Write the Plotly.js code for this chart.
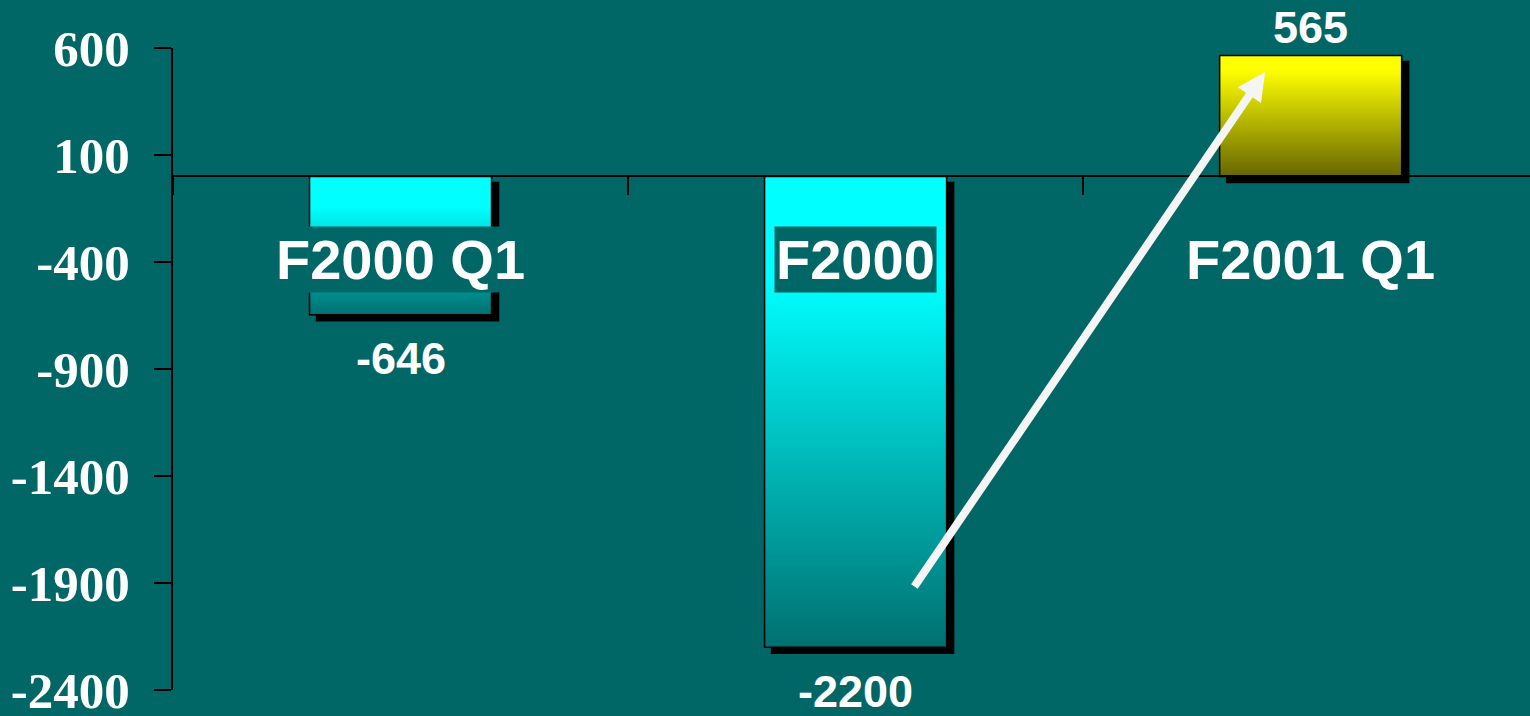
<!DOCTYPE html>
<html>
<head>
<meta charset="utf-8">
<script src="https://cdn.plot.ly/plotly-3.0.1.min.js"></script>
<style>
  html, body { margin: 0; padding: 0; background: #006666; }
  #chart { width: 1530px; height: 716px; }
</style>
</head>
<body>
<div id="chart"></div>
<script>
// ---- data ----
const categories = ['F2000 Q1', 'F2000', 'F2001 Q1'];
const values = [-646, -2200, 565];
const valueLabels = ['-646', '-2200', '565'];
const yTickValues = [-2400, -1900, -1400, -900, -400, 100, 600];
const yTickLabels = ['-2400', '-1900', '-1400', '-900', '-400', '100', '600'];
// arrow: from inside the F2000 bar up to the F2001 Q1 bar
const arrowFrom = { x: 1.127, y: -1923 };
const arrowTo = { x: 1.90, y: 488 };
const categoryLabelY = -400;

// ---- style ----
const BG = '#006666';
const WHITE = '#FFFFFF';

const barTrace = {
  type: 'bar',
  x: categories,
  y: values,
  width: 0.4,
  marker: {
    color: values.map(v => v >= 0 ? '#FFFF00' : '#00FFFF'),
    line: { color: '#000000', width: 1.5 }
  },
  hoverinfo: 'x+y',
  showlegend: false
};

const annotations = [];
// category labels inside the plot with a background box
categories.forEach((c, i) => {
  annotations.push({
    x: i, y: categoryLabelY, xref: 'x', yref: 'y',
    text: c, showarrow: false,
    font: { family: 'Liberation Sans, Arial, sans-serif', size: 56, color: WHITE, weight: 'bold' },
    bgcolor: BG, borderpad: 1,
    xanchor: 'center', yanchor: 'middle', yshift: 3
  });
});
// value labels
values.forEach((v, i) => {
  annotations.push({
    x: i, y: v, xref: 'x', yref: 'y',
    text: valueLabels[i], showarrow: false,
    font: { family: 'Liberation Sans, Arial, sans-serif', size: 45, color: WHITE, weight: 'bold' },
    xanchor: 'center', yanchor: 'middle',
    yshift: v >= 0 ? 28 : -44
  });
});
// arrow
annotations.push({
  x: arrowTo.x, y: arrowTo.y, xref: 'x', yref: 'y',
  ax: arrowFrom.x, ay: arrowFrom.y, axref: 'x', ayref: 'y',
  text: '', showarrow: true,
  arrowcolor: '#F5F5F5', arrowwidth: 8, arrowhead: 2, arrowsize: 0.7,
  standoff: 0, startstandoff: 0
});

const layout = {
  width: 1530, height: 716,
  paper_bgcolor: BG, plot_bgcolor: BG,
  margin: { l: 173, r: 0, t: 48, b: 26 },
  showlegend: false,
  xaxis: {
    type: 'category',
    range: [-0.5, 2.482],
    anchor: 'free', position: 0.8,
    showline: true, linecolor: '#000000', linewidth: 2,
    ticks: 'outside', tickson: 'boundaries', ticklen: 18, tickwidth: 2, tickcolor: '#000000',
    showticklabels: false, showgrid: false, zeroline: false, fixedrange: true
  },
  yaxis: {
    range: [-2400, 600],
    tickmode: 'array', tickvals: yTickValues, ticktext: yTickLabels,
    showline: true, linecolor: '#000000', linewidth: 2,
    ticks: 'outside', ticklen: 17, tickwidth: 2, tickcolor: '#000000',
    ticklabelstandoff: 14, ticklabeloverflow: 'allow',
    tickfont: { family: 'Liberation Serif, Times New Roman, serif', size: 51, color: WHITE, weight: 'bold' },
    showgrid: false, zeroline: false, fixedrange: true
  },
  annotations: annotations
};

Plotly.newPlot('chart', [barTrace], layout, { displayModeBar: false, staticPlot: true }).then(gd => {
  const NS = 'http://www.w3.org/2000/svg';
  const svg = gd.querySelector('svg.main-svg');
  let defs = svg.querySelector('defs');
  if (!defs) { defs = document.createElementNS(NS, 'defs'); svg.insertBefore(defs, svg.firstChild); }
  function grad(id, stops) {
    const g = document.createElementNS(NS, 'linearGradient');
    g.setAttribute('id', id);
    g.setAttribute('x1', '0'); g.setAttribute('y1', '0');
    g.setAttribute('x2', '0'); g.setAttribute('y2', '1');
    stops.forEach(([o, c]) => {
      const s = document.createElementNS(NS, 'stop');
      s.setAttribute('offset', o); s.setAttribute('stop-color', c);
      g.appendChild(s);
    });
    defs.appendChild(g);
  }
  grad('gradCyan', [[0, '#00FFFF'], [0.22, '#00FFFF'], [1, '#007070']]);
  grad('gradYellow', [[0, '#FFFF00'], [0.12, '#FFFF00'], [1, '#666600']]);
  const f = document.createElementNS(NS, 'filter');
  f.setAttribute('id', 'barShadow');
  f.setAttribute('x', '-20%'); f.setAttribute('y', '-20%');
  f.setAttribute('width', '140%'); f.setAttribute('height', '140%');
  const ds = document.createElementNS(NS, 'feDropShadow');
  ds.setAttribute('dx', '7'); ds.setAttribute('dy', '6');
  ds.setAttribute('stdDeviation', '0');
  ds.setAttribute('flood-color', '#000000'); ds.setAttribute('flood-opacity', '1');
  f.appendChild(ds);
  defs.appendChild(f);
  const paths = gd.querySelectorAll('.trace.bars .point path');
  paths.forEach((p, i) => {
    p.style.fill = values[i] >= 0 ? 'url(#gradYellow)' : 'url(#gradCyan)';
    p.style.fillOpacity = 1;
    p.setAttribute('filter', 'url(#barShadow)');
  });
});
</script>
</body>
</html>
